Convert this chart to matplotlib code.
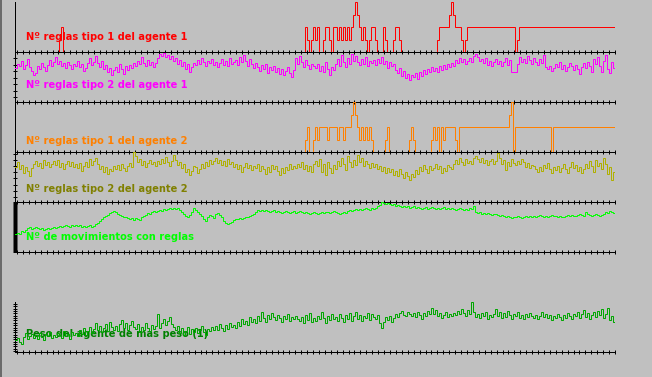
import numpy as np
import matplotlib
matplotlib.use('Agg')
import matplotlib.pyplot as plt
from matplotlib.lines import Line2D

# ---------------- data (one sample per time step) ----------------
reglas1_ag1 = ([0]*22 + [1, 2] + [0]*121 +
               [2, 1, 0, 1, 2, 1, 2, 0, 0, 1, 2, 2, 1, 0, 2, 2, 1, 2, 1, 2, 1, 2, 1,
                2, 3, 4, 3, 2, 1, 2, 1, 0, 1, 2, 2, 1, 0, 0, 0, 2, 1, 0, 0, 0, 1, 2, 2, 1] +
               [0]*18 + [1, 2, 2, 2, 2, 2, 3, 4, 3, 2, 2, 2, 1, 0, 1] +
               [2]*24 + [0, 1] + [2]*48)

reglas1_ag2 = ([0]*145 +
               [1, 2, 0, 0, 1, 2, 1, 2, 2, 2, 2, 1, 2, 2, 2, 2, 1, 2, 2, 1, 2,
                2, 2, 3, 4, 3, 2, 1, 2, 1, 2, 1, 2, 1] +
               [0]*6 + [1, 2] + [0]*10 + [1, 2, 1] + [0]*8 +
               [1, 2, 1, 2, 0, 2, 1, 2, 2, 2, 2, 2, 1, 0] +
               [2]*25 + [3, 4, 0] + [2]*18 + [0] + [2]*31)

reglas2_ag1 = [
    34, 38, 36, 41, 33, 37, 43, 35, 31, 27, 29, 36, 33, 39, 35, 31, 37, 42, 36, 40,
    45, 38, 41, 36, 39, 34, 40, 37, 33, 38, 36, 41, 35, 38, 31, 34, 39, 44, 37, 40,
    46, 39, 35, 41, 33, 37, 30, 34, 27, 32, 35, 30, 38, 33, 28, 36, 32, 37, 34, 39,
    36, 41, 38, 45, 39, 36, 42, 37, 40, 35, 39, 44, 48, 46, 49, 45, 47, 43, 46, 41,
    44, 38, 42, 36, 40, 33, 38, 30, 35, 39, 37, 42, 38, 44, 40, 36, 41, 39, 43, 37,
    40, 35, 39, 43, 37, 41, 36, 44, 38, 40, 42, 37, 45, 40, 47, 41, 36, 43, 38, 34,
    39, 35, 31, 37, 33, 38, 29, 35, 32, 36, 30, 34, 28, 33, 27, 31, 35, 29, 25, 32,
    44, 38, 46, 40, 35, 42, 37, 33, 38, 36, 34, 38, 31, 36, 30, 40, 33, 27, 35, 32,
    38, 43, 36, 47, 40, 35, 44, 38, 48, 41, 46, 40, 37, 43, 38, 45, 36, 41, 39, 42,
    37, 43, 39, 45, 38, 41, 34, 40, 36, 38, 32, 29, 34, 26, 31, 24, 28, 22, 27, 25,
    29, 23, 30, 26, 32, 28, 33, 30, 35, 31, 34, 30, 36, 32, 37, 33, 38, 35, 39, 36,
    42, 39, 44, 40, 43, 38, 41, 44, 40, 46, 48, 45, 41, 43, 39, 44, 37, 41, 36, 40,
    43, 38, 41, 36, 40, 44, 37, 42, 30, 30, 30, 38, 45, 40, 43, 39, 46, 42, 38, 44,
    40, 37, 43, 39, 47, 35, 33, 36, 31, 34, 38, 35, 40, 33, 37, 31, 35, 39, 36, 32,
    37, 33, 28, 35, 39, 34, 40, 36, 30, 43, 38, 45, 36, 30, 41, 47, 33, 29, 40, 34]

reglas2_ag2 = [
    35, 40, 33, 37, 29, 35, 31, 26, 34, 38, 41, 36, 39, 34, 42, 37, 40, 35, 38, 41,
    37, 42, 35, 39, 33, 38, 41, 36, 40, 35, 38, 34, 39, 31, 36, 40, 35, 43, 37, 41,
    44, 38, 33, 36, 30, 35, 28, 33, 31, 36, 33, 37, 32, 38, 34, 31, 36, 39, 35, 50,
    46, 40, 43, 37, 41, 35, 39, 42, 38, 40, 36, 41, 38, 43, 39, 45, 40, 36, 41, 47,
    42, 37, 40, 34, 38, 30, 33, 27, 31, 36, 35, 29, 33, 38, 34, 40, 36, 42, 38, 41,
    44, 39, 42, 37, 41, 36, 43, 38, 40, 35, 38, 33, 37, 30, 35, 39, 34, 37, 32, 36,
    34, 38, 31, 36, 33, 28, 35, 30, 37, 33, 36, 31, 27, 34, 29, 35, 32, 38, 33, 36,
    34, 38, 35, 40, 33, 37, 31, 36, 30, 38, 41, 36, 43, 30, 38, 27, 40, 34, 29, 37,
    33, 41, 36, 44, 38, 32, 46, 40, 35, 42, 37, 47, 40, 44, 36, 41, 38, 34, 39, 35,
    38, 33, 36, 31, 35, 29, 34, 30, 33, 27, 31, 26, 33, 28, 24, 30, 26, 22, 28, 25,
    32, 28, 35, 31, 37, 33, 29, 36, 32, 34, 38, 33, 36, 29, 34, 31, 37, 35, 33, 38,
    42, 38, 44, 40, 37, 43, 39, 41, 38, 44, 46, 43, 40, 44, 39, 42, 37, 41, 43, 38,
    41, 49, 44, 38, 42, 32, 40, 36, 43, 39, 37, 41, 38, 43, 40, 35, 39, 34, 37, 36,
    33, 30, 35, 31, 37, 34, 39, 33, 29, 35, 32, 36, 30, 34, 38, 33, 29, 35, 40, 34,
    37, 31, 35, 29, 33, 38, 34, 41, 36, 30, 42, 36, 39, 33, 44, 38, 28, 35, 22, 30]

movimientos = [
    18, 19, 18, 21, 20, 22, 24, 25, 23, 24, 25, 24, 23, 24, 22, 23, 24, 23, 24, 25,
    24, 25, 26, 25, 26, 27, 26, 25, 27, 26, 27, 26, 27, 25, 26, 25, 26, 27, 25, 26,
    28, 29, 31, 33, 35, 36, 37, 39, 40, 41, 40, 38, 37, 36, 35, 35, 34, 33, 34, 32,
    34, 33, 32, 35, 36, 37, 39, 38, 40, 41, 40, 41, 42, 41, 43, 42, 43, 44, 43, 44,
    43, 44, 42, 40, 38, 36, 35, 37, 40, 44, 42, 40, 38, 36, 33, 31, 35, 37, 36, 34,
    38, 39, 37, 35, 31, 29, 28, 29, 30, 32, 33, 33, 34, 33, 34, 35, 35, 36, 37, 38,
    40, 42, 41, 42, 41, 42, 41, 40, 41, 42, 40, 41, 40, 39, 40, 41, 40, 39, 40, 41,
    39, 40, 41, 40, 39, 40, 39, 38, 39, 40, 39, 38, 39, 40, 39, 40, 40, 39, 40, 41,
    40, 39, 38, 39, 40, 39, 41, 42, 41, 42, 43, 42, 43, 42, 43, 44, 43, 42, 44, 43,
    44, 46, 47, 50, 49, 48, 49, 48, 47, 48, 46, 47, 46, 45, 46, 45, 46, 44, 45, 46,
    44, 45, 44, 43, 44, 45, 43, 44, 45, 44, 43, 44, 43, 44, 45, 43, 44, 43, 44, 43,
    42, 43, 44, 43, 42, 43, 42, 44, 43, 46, 40, 39, 40, 38, 39, 38, 39, 38, 37, 38,
    38, 37, 36, 37, 36, 35, 36, 35, 34, 35, 35, 36, 35, 34, 35, 36, 35, 36, 35, 36,
    35, 36, 37, 36, 35, 36, 35, 36, 37, 36, 36, 35, 36, 35, 35, 36, 37, 36, 37, 36,
    36, 37, 38, 37, 36, 40, 38, 37, 36, 37, 38, 37, 36, 37, 38, 40, 39, 41, 40, 39]

peso = [
    12, 14, 10, 8, 15, 19, 13, 16, 18, 14, 17, 13, 19, 15, 12, 18, 16, 20, 14, 17,
    15, 19, 17, 14, 21, 16, 18, 13, 20, 17, 19, 16, 22, 18, 24, 17, 21, 25, 19, 23,
    29, 22, 26, 20, 24, 28, 21, 30, 25, 22, 26, 21, 28, 32, 24, 29, 22, 27, 31, 25,
    23, 28, 20, 25, 22, 29, 24, 21, 27, 23, 26, 38, 24, 29, 33, 27, 31, 35, 28, 25,
    22, 26, 19, 24, 17, 21, 25, 18, 23, 20, 24, 19, 22, 26, 20, 17, 23, 21, 25, 22,
    26, 22, 28, 24, 21, 27, 23, 29, 25, 27, 24, 30, 26, 33, 28, 31, 27, 35, 30, 33,
    29, 36, 31, 40, 34, 30, 37, 33, 39, 35, 32, 37, 34, 30, 36, 33, 38, 31, 35, 33,
    36, 33, 31, 35, 29, 37, 32, 39, 30, 34, 31, 36, 33, 40, 34, 29, 36, 32, 38, 33,
    35, 31, 38, 34, 30, 37, 33, 39, 31, 36, 40, 33, 37, 31, 36, 34, 39, 32, 38, 35,
    33, 37, 29, 24, 30, 35, 32, 36, 30, 34, 38, 35, 39, 41, 37, 36, 40, 38, 36, 39,
    35, 40, 37, 33, 39, 36, 41, 38, 44, 38, 42, 36, 39, 34, 37, 40, 35, 38, 36, 39,
    37, 41, 38, 43, 39, 36, 42, 38, 50, 40, 35, 38, 34, 39, 36, 40, 33, 37, 35, 38,
    43, 36, 40, 34, 39, 35, 41, 37, 33, 38, 36, 40, 34, 37, 33, 38, 35, 39, 36, 34,
    37, 33, 36, 40, 35, 38, 34, 37, 32, 36, 34, 38, 35, 32, 37, 34, 39, 36, 33, 38,
    36, 40, 34, 38, 42, 35, 39, 33, 37, 40, 35, 41, 37, 43, 34, 38, 44, 32, 36, 30]

labels = ["Nº reglas tipo 1 del agente 1",
          "Nº reglas tipo 2 del agente 1",
          "Nº reglas tipo 1 del agente 2",
          "Nº reglas tipo 2 del agente 2",
          "Nº de movimientos con reglas",
          "Peso del agente de mas peso (1)"]

# ---------------- layout / style ----------------
W, H, DPI = 652, 377, 100
BG = '#c0c0c0'
PX = 72.0 / DPI          # one pixel in points
X0, XW, PH = 15, 600, 50

plt.rcParams['font.family'] = ['DejaVu Sans']

fig = plt.figure(figsize=(W / DPI, H / DPI), dpi=DPI, facecolor=BG)

panels = [
    # series, baseline px, ylim, trace colour, label colour, label baseline frac, yticks
    (reglas1_ag1, 52, (0, 4), '#ff0000', '#ff0000', 0.24, []),
    (reglas2_ag1, 102, (0, 50), '#ff00ff', '#ff00ff', 0.274,
     [5, 11.5, 18, 24.5, 31, 37.5, 44]),
    (reglas1_ag2, 152, (0, 4), '#ff8000', '#ff8000', 0.16, []),
    (reglas2_ag2, 202, (0, 50), '#b0b000', '#808000', 0.206,
     [5, 11, 17.5, 24, 30, 36, 42, 48]),
    (movimientos, 252, (0, 50), '#00ff00', '#00ff00', 0.24, list(np.arange(0, 51, 1))),
    (peso, 352, (0, 50), '#00a800', '#008000', 0.306, list(np.arange(1, 50, 2.35))),
]

for (vals, yb, ylim, col, lcol, lfrac, yt), lab in zip(panels, labels):
    n = len(vals)
    ax = fig.add_axes([X0 / W, (H - yb) / H, XW / W, PH / H])
    ax.set_facecolor('none')
    ax.set_xlim(0, n)
    ax.set_ylim(*ylim)
    for s in ('top', 'right'):
        ax.spines[s].set_visible(False)
    for s in ('left', 'bottom'):
        ax.spines[s].set_color('black')
        ax.spines[s].set_linewidth(PX)
    ax.set_xticks(np.linspace(1, n, 102))
    ax.set_yticks(yt)
    ax.tick_params(axis='x', direction='inout', length=4.5 * PX, width=PX,
                   color='black', labelbottom=False)
    ax.tick_params(axis='y', direction='inout', length=4.5 * PX, width=PX,
                   color='black', labelleft=False)
    last = ax.xaxis.get_major_ticks()[-1]
    last.tick1line.set_color('#ff0000')

    ax.text(11 / XW, lfrac, lab, transform=ax.transAxes, color=lcol,
            fontsize=7.1, fontweight='bold', ha='left', va='baseline', zorder=1)
    xs = np.arange(n + 1)
    ys = list(vals) + [vals[-1]]
    ax.plot(xs, ys, drawstyle='steps-post', color=col, lw=PX,
            zorder=3, snap=True, solid_joinstyle='miter', solid_capstyle='projecting')

# window border at the far left
fig.add_artist(Line2D([0.5 / W, 0.5 / W], [0, 1], transform=fig.transFigure,
                      color='#505050', lw=1.5 * PX))

fig.savefig('out.png', dpi=DPI, facecolor=BG)
